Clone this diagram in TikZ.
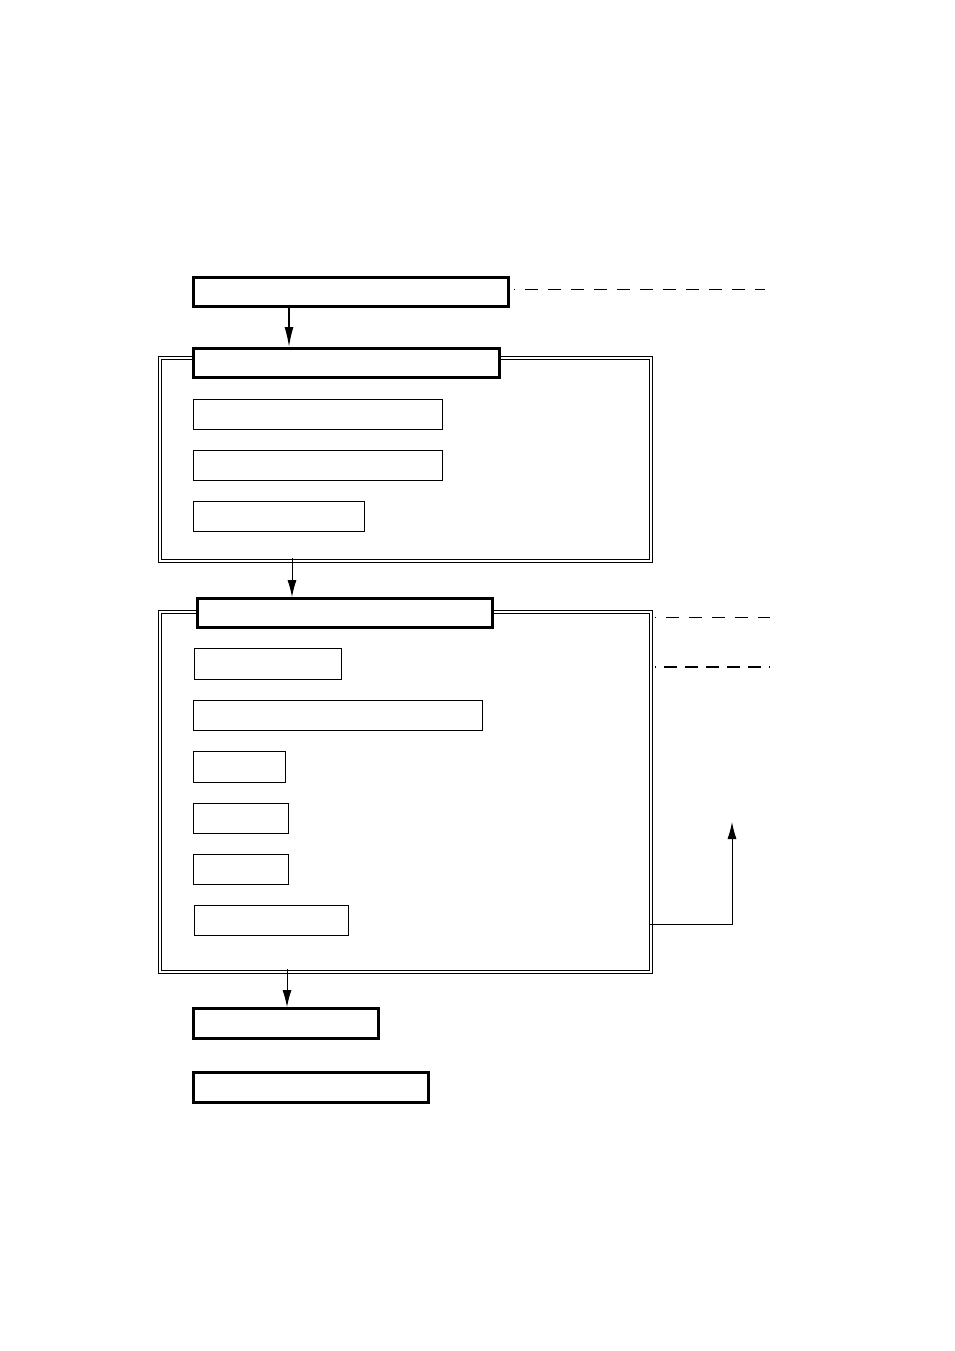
\documentclass[tikz,border=0pt]{standalone}
\usetikzlibrary{arrows.meta}
\begin{document}
\begin{tikzpicture}[x=1pt,y=-1pt,
  thickbox/.style={draw,line width=2.8pt,fill=white,inner sep=0pt,anchor=north west},
  thinbox/.style={draw,line width=1.4pt,fill=white,inner sep=0pt,anchor=north west},
  frame/.style={draw,double,double distance=1.8pt,line width=0.9pt,inner sep=0pt,anchor=north west},
  arr/.style={-{Latex[length=20pt,width=9pt]},line width=1.5pt},
  arrthin/.style={-{Latex[length=17pt,width=9pt]},line width=0.9pt},
  dline/.style={line width=0.8pt,dash pattern=on 13pt off 10pt,dash phase=12pt},
  dlinethick/.style={line width=2pt,dash pattern=on 13pt off 8pt,dash phase=12pt}]
\useasboundingbox (0,0) rectangle (954,1351);
% frames
\node[frame,minimum width=491pt,minimum height=203pt] (F1) at (159.5,357.5) {};
\node[frame,minimum width=491pt,minimum height=360pt] (F2) at (159.5,611.5) {};
% top box
\node[thickbox,minimum width=315.2pt,minimum height=29.2pt] (A) at (192,276) {};
% header of frame 1
\node[thickbox,minimum width=306.2pt,minimum height=29.2pt] (B) at (192,347) {};
\node[thinbox,minimum width=248.6pt,minimum height=29.6pt] (B1) at (193,399) {};
\node[thinbox,minimum width=248.6pt,minimum height=29.6pt] (B2) at (193,450) {};
\node[thinbox,minimum width=170.6pt,minimum height=29.6pt] (B3) at (193,501) {};
% header of frame 2
\node[thickbox,minimum width=295.2pt,minimum height=29.2pt] (C) at (196,597) {};
\node[thinbox,minimum width=146.6pt,minimum height=30.6pt] (C1) at (194,648) {};
\node[thinbox,minimum width=288.6pt,minimum height=29.6pt] (C2) at (193,700) {};
\node[thinbox,minimum width=91.6pt,minimum height=30.6pt] (C3) at (193,751) {};
\node[thinbox,minimum width=94.6pt,minimum height=29.6pt] (C4) at (193,803) {};
\node[thinbox,minimum width=94.6pt,minimum height=29.6pt] (C5) at (193,854) {};
\node[thinbox,minimum width=153.6pt,minimum height=29.6pt] (C6) at (194,905) {};
% bottom boxes
\node[thickbox,minimum width=185.2pt,minimum height=30.2pt] (D) at (192,1007) {};
\node[thickbox,minimum width=235.2pt,minimum height=30.2pt] (E) at (192,1071) {};
% connectors
\coordinate (xa) at (289,0);
\coordinate (xb) at (292,0);
\coordinate (xc) at (287,0);
\draw[arr] (A.south -| xa) -- (B.north -| xa);
\draw[arrthin] ([yshift=3pt]F1.south -| xb) -- (C.north -| xb);
\draw[arrthin] ([yshift=3pt]F2.south -| xc) -- (D.north -| xc);
% feedback elbow
\coordinate (fb0) at (650,924);
\coordinate (fbtop) at (732,822);
\draw[arrthin] (fb0) -- (fbtop |- fb0) -- (fbtop);
% dashed leaders
\coordinate (d1) at (765,289);
\coordinate (d2a) at (655,617);
\coordinate (d2) at (770,617);
\coordinate (d3a) at (655,667);
\coordinate (d3) at (770,667);
\draw[dline] ([xshift=4pt]A.east |- d1) -- (d1);
\draw[dline] (d2a) -- (d2);
\draw[dlinethick] (d3a) -- (d3);
\end{tikzpicture}
\end{document}
